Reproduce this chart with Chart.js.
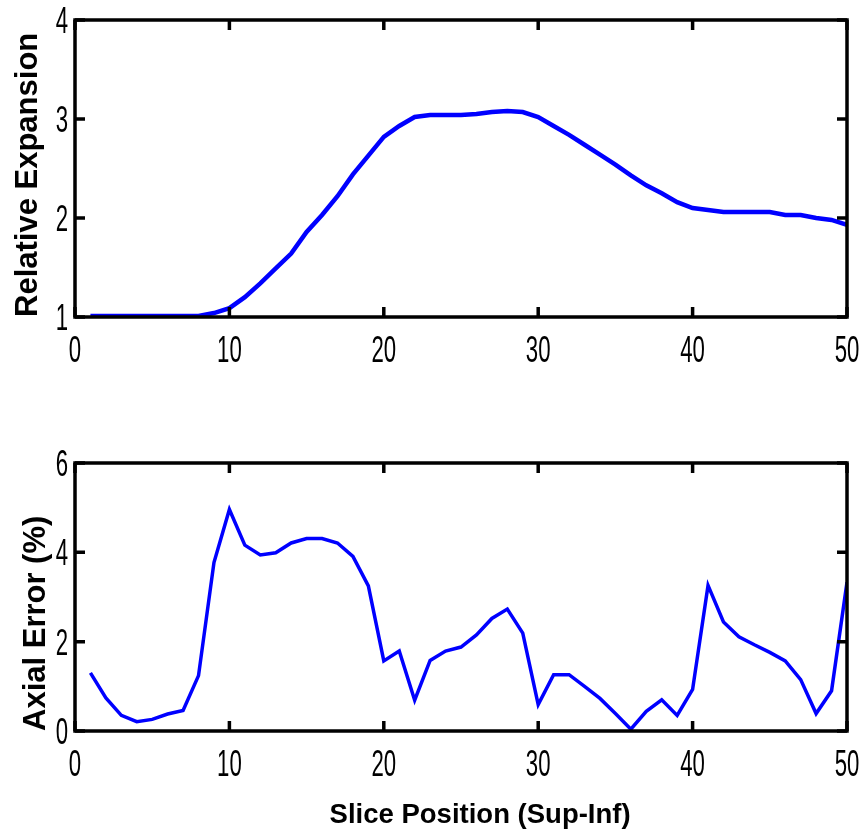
<!DOCTYPE html>
<html>
<head>
<meta charset="utf-8">
<script src="https://cdn.jsdelivr.net/npm/chart.js@4"></script>
<style>
  html, body { margin: 0; padding: 0; background: #fff; }
  #wrap { position: relative; width: 865px; height: 832px; }
  canvas { position: absolute; left: 0; }
  #top-chart { top: 0; }
  #bottom-chart { top: 400px; }
</style>
</head>
<body>
<div id="wrap">
  <canvas id="top-chart" width="865" height="400"></canvas>
  <canvas id="bottom-chart" width="865" height="432"></canvas>
</div>
<script>
// данные
const slices = [1, 2, 3, 4, 5, 6, 7, 8, 9, 10,
  11, 12, 13, 14, 15, 16, 17, 18, 19, 20,
  21, 22, 23, 24, 25, 26, 27, 28, 29, 30,
  31, 32, 33, 34, 35, 36, 37, 38, 39, 40,
  41, 42, 43, 44, 45, 46, 47, 48, 49, 50];

const relativeExpansion = [1.01, 1.01, 1.01, 1.01, 1.01, 1.01, 1.01, 1.01, 1.04, 1.09,
  1.20, 1.34, 1.49, 1.64, 1.86, 2.03, 2.22, 2.44, 2.63, 2.82,
  2.93, 3.02, 3.04, 3.04, 3.04, 3.05, 3.07, 3.08, 3.07, 3.02,
  2.93, 2.84, 2.74, 2.64, 2.54, 2.43, 2.33, 2.25, 2.16, 2.10,
  2.08, 2.06, 2.06, 2.06, 2.06, 2.03, 2.03, 2.00, 1.98, 1.93];

const axialError = [1.30, 0.74, 0.35, 0.21, 0.26, 0.38, 0.46, 1.24, 3.77, 4.96,
  4.16, 3.94, 3.99, 4.21, 4.31, 4.31, 4.21, 3.91, 3.25, 1.57,
  1.79, 0.69, 1.58, 1.79, 1.88, 2.15, 2.52, 2.73, 2.19, 0.59,
  1.26, 1.26, 1.00, 0.73, 0.39, 0.04, 0.44, 0.70, 0.35, 0.93,
  3.26, 2.44, 2.11, 1.93, 1.76, 1.57, 1.15, 0.39, 0.90, 3.33];

const xTicks = [0, 10, 20, 30, 40, 50];
const topYTicks = [1, 2, 3, 4];
const bottomYTicks = [0, 2, 4, 6];

const fontFamily = "'Liberation Sans', Arial, sans-serif";

// рамка, внутренние засечки и узкие подписи делений как в MATLAB
const boxPlugin = {
    id: 'box',
    afterDraw(chart) {
        const { ctx, chartArea: a, scales } = chart;
        ctx.save();
        ctx.strokeStyle = '#000';
        ctx.lineWidth = 3.5;
        ctx.strokeRect(a.left, a.top, a.right - a.left, a.bottom - a.top);
        const len = 10;
        ctx.beginPath();
        scales.x.ticks.forEach(t => {
            const px = scales.x.getPixelForValue(t.value);
            ctx.moveTo(px, a.bottom); ctx.lineTo(px, a.bottom - len);
            ctx.moveTo(px, a.top); ctx.lineTo(px, a.top + len);
        });
        scales.y.ticks.forEach(t => {
            const py = scales.y.getPixelForValue(t.value);
            ctx.moveTo(a.left, py); ctx.lineTo(a.left + len, py);
            ctx.moveTo(a.right, py); ctx.lineTo(a.right - len, py);
        });
        ctx.stroke();

        // подписи делений: шрифт сжат по горизонтали
        ctx.fillStyle = '#000';
        ctx.font = '37px ' + fontFamily;
        ctx.textBaseline = 'alphabetic';
        const sx = 0.6;
        ctx.textAlign = 'center';
        scales.x.ticks.forEach(t => {
            const px = scales.x.getPixelForValue(t.value);
            ctx.save();
            ctx.translate(px, a.bottom + 45);
            ctx.scale(sx, 1);
            ctx.fillText(String(t.value), 0, 0);
            ctx.restore();
        });
        ctx.textAlign = 'right';
        scales.y.ticks.forEach(t => {
            const py = scales.y.getPixelForValue(t.value);
            ctx.save();
            ctx.translate(a.left - 7, py + 13);
            ctx.scale(sx, 1);
            ctx.fillText(String(t.value), 0, 0);
            ctx.restore();
        });
        ctx.restore();
    }
};

function makeChart(id, values, yTitle, yTicks, opts) {
    const ctx = document.getElementById(id).getContext('2d');
    return new Chart(ctx, {
        type: 'line',
        data: {
            datasets: [{
                data: slices.map((s, i) => ({ x: s, y: values[i] })),
                borderColor: '#0000ff',
                borderWidth: opts.lineWidth,
                pointRadius: 0,
                tension: 0,
                fill: false
            }]
        },
        options: {
            responsive: false,
            animation: false,
            events: [],
            layout: { padding: { left: 0, right: 18, top: opts.top, bottom: 0 } },
            plugins: { legend: { display: false }, tooltip: { enabled: false } },
            scales: {
                x: {
                    type: 'linear',
                    min: 0,
                    max: 50,
                    afterBuildTicks: s => { s.ticks = xTicks.map(v => ({ value: v })); },
                    grid: { display: false },
                    border: { display: false },
                    ticks: { display: false },
                    title: {
                        display: !!opts.xTitle,
                        text: opts.xTitle || '',
                        color: '#000',
                        font: { family: fontFamily, size: 27.5, weight: 'bold' },
                        padding: { top: 64, bottom: 0 }
                    },
                    afterFit: s => { s.height = opts.xHeight; }
                },
                y: {
                    min: yTicks[0],
                    max: yTicks[yTicks.length - 1],
                    afterBuildTicks: s => { s.ticks = yTicks.map(v => ({ value: v })); },
                    grid: { display: false },
                    border: { display: false },
                    ticks: { display: false },
                    title: {
                        display: true,
                        text: yTitle,
                        align: 'start',
                        color: '#000',
                        font: { family: fontFamily, size: 31, weight: 'bold' },
                        padding: { top: opts.yTitlePad, bottom: 0 }
                    },
                    afterFit: s => { s.width = 75; }
                }
            }
        },
        plugins: [boxPlugin]
    });
}

makeChart('top-chart', relativeExpansion, 'Relative Expansion', topYTicks,
    { top: 20, xHeight: 83, lineWidth: 4.5, yTitlePad: 10 });
makeChart('bottom-chart', axialError, 'Axial Error (%)', bottomYTicks,
    { top: 63, xHeight: 101, lineWidth: 3.5, yTitlePad: 18, xTitle: '     Slice Position (Sup-Inf)' });
</script>
</body>
</html>
